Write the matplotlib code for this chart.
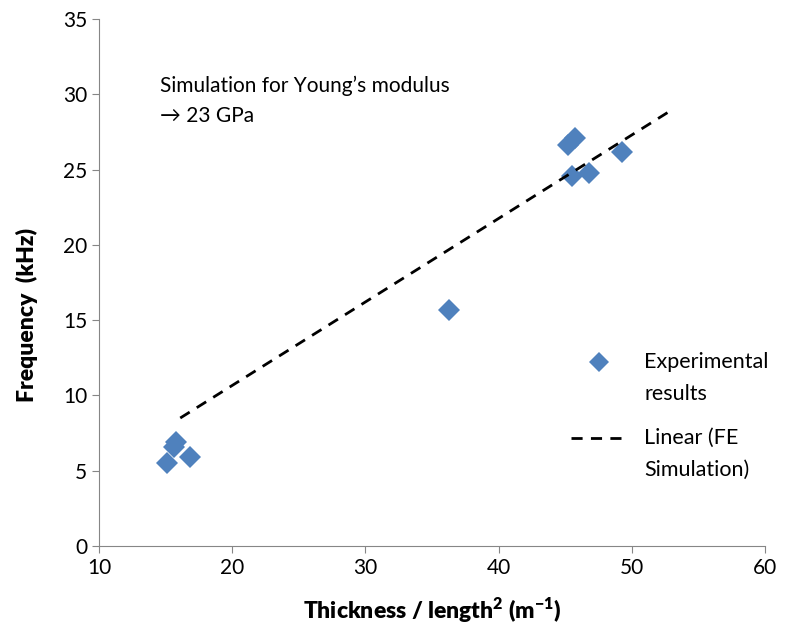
import numpy as np
import matplotlib.pyplot as plt
from matplotlib.lines import Line2D
from matplotlib.legend_handler import HandlerLine2D

plt.rcParams['font.family'] = ['Lato', 'DejaVu Sans']

# Experimental results
exp_x = [15.1, 15.6, 15.8, 16.8, 36.3, 45.2, 45.7, 45.5, 46.8, 49.3]
exp_y = [5.5, 6.6, 6.9, 5.9, 15.7, 26.6, 27.1, 24.6, 24.8, 26.2]

# Linear (FE simulation) trend endpoints
fe_x = [16.1, 52.8]
fe_y = [8.5, 28.85]


# keys sit on the first line of each two-line label, as in Excel
class FirstLineHandler(HandlerLine2D):
    def __init__(self, shift, **kw):
        super().__init__(**kw)
        self.shift = shift

    def create_artists(self, legend, orig_handle, xdescent, ydescent, width, height, fontsize, trans):
        return super().create_artists(legend, orig_handle, xdescent,
                                      ydescent - 2 * self.shift * fontsize,
                                      width, height, fontsize, trans)


fig = plt.figure(figsize=(7.9, 6.33), dpi=100)
ax = fig.add_axes([99 / 790, 1 - 546 / 633, (765 - 99) / 790, (546 - 19) / 633])

ax.plot(exp_x, exp_y, 'D', color='#4F81BD', markersize=11, markeredgewidth=0,
        label='Experimental\nresults')
ax.plot(fe_x, fe_y, '--', color='black', linewidth=2, dashes=(4, 3),
        label='Linear (FE\nSimulation)')

ax.set_xlim(10, 60)
ax.set_ylim(0, 35)
ax.set_xticks(np.arange(10, 61, 10))
ax.set_yticks(np.arange(0, 36, 5))
ax.spines['top'].set_visible(False)
ax.spines['right'].set_visible(False)
for s in ['left', 'bottom']:
    ax.spines[s].set_color('#868686')
ax.tick_params(direction='out', length=5, color='#868686', labelsize=15)

ax.set_xlabel('Thickness / length$^\\mathregular{2}$ (m$^\\mathregular{-1}$)', fontsize=16.5,
              fontweight='heavy', labelpad=13)
ax.set_ylabel('Frequency  (kHz)', fontsize=16.5, fontweight='heavy')
ax.yaxis.set_label_coords(-0.091, 0.438)

ax.text(0.092, 0.892, 'Simulation for Young\u2019s modulus\n\u2192 23 GPa', transform=ax.transAxes,
        fontsize=15, va='top', ha='left', linespacing=1.6)

leg = ax.legend(loc='center left', bbox_to_anchor=(0.68, 0.247), frameon=False, fontsize=15.5,
                handlelength=2.6, labelspacing=1.1, handletextpad=0.8, markerscale=0.9,
                handler_map={Line2D: FirstLineHandler(0.74)})
for t in leg.get_texts():
    t.set_linespacing(1.77)

fig.savefig('out.png', dpi=100)
